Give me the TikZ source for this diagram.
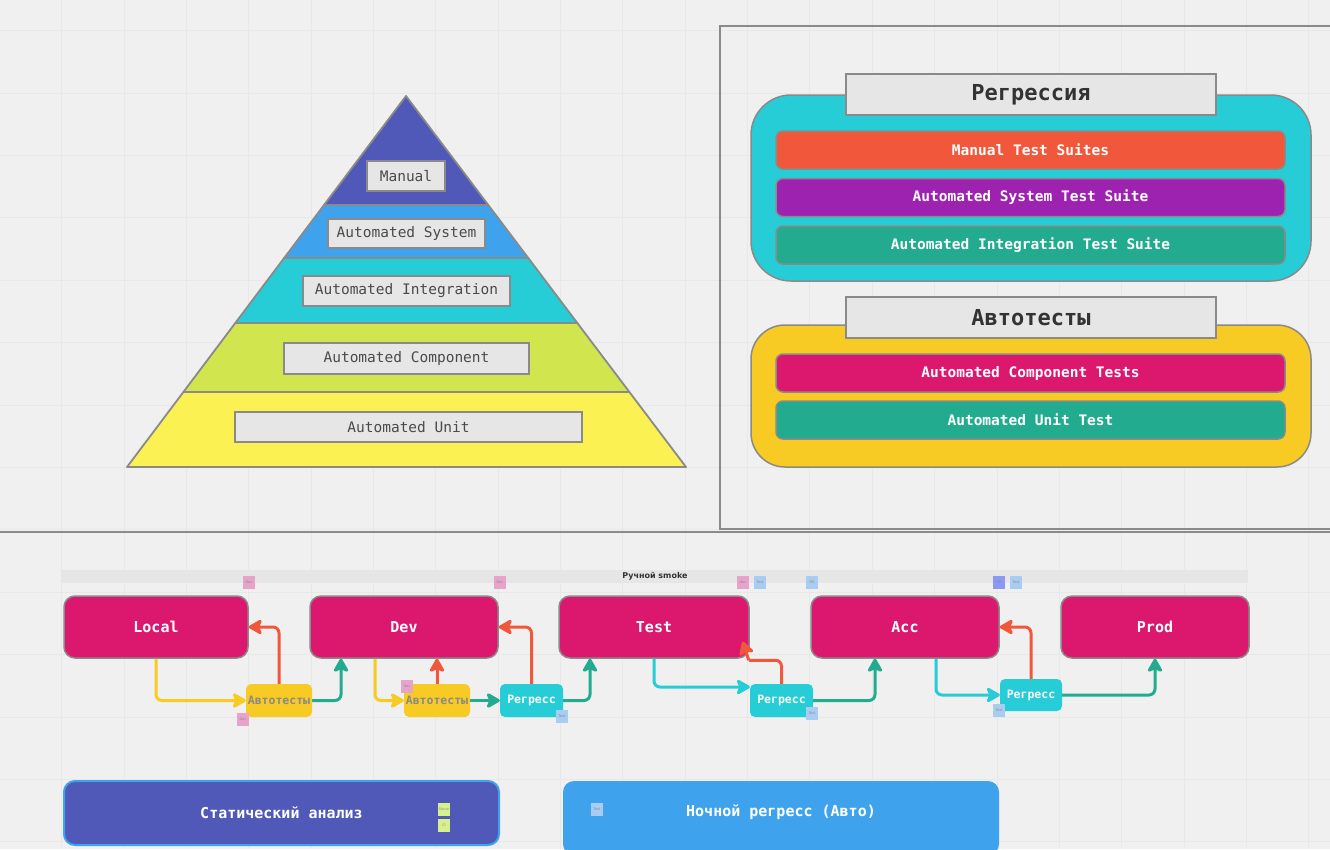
\documentclass[tikz,border=0pt]{standalone}
\usepackage{fontspec}
\setmonofont{DejaVu Sans Mono}
\setsansfont{DejaVu Sans}
\usetikzlibrary{arrows.meta,calc}
\definecolor{bg}{HTML}{F0F0F0}
\definecolor{gridc}{HTML}{E8E8E8}
\definecolor{edge}{HTML}{8A8A8A}
\definecolor{lblfill}{HTML}{E6E6E6}
\definecolor{indigo}{HTML}{5059B8}
\definecolor{sky}{HTML}{3FA2EC}
\definecolor{cyanx}{HTML}{26CDD6}
\definecolor{lime}{HTML}{D0E54E}
\definecolor{yel}{HTML}{FCF152}
\definecolor{amber}{HTML}{F8CA24}
\definecolor{tomato}{HTML}{F0573B}
\definecolor{purp}{HTML}{9E22B0}
\definecolor{tealx}{HTML}{22AB8F}
\definecolor{magx}{HTML}{DC186E}
\definecolor{notepink}{HTML}{E8A3CB}
\definecolor{noteblue}{HTML}{A9CDF2}
\definecolor{notepo}{HTML}{8B99F4}
\definecolor{notelime}{HTML}{D7F08E}
\definecolor{darktext}{HTML}{333333}
\definecolor{midtext}{HTML}{4A4A4A}
\tikzset{
  pyrlabel/.style={draw=edge, line width=1.5pt, fill=lblfill, inner sep=0pt, text=midtext,
    font=\ttfamily\fontsize{14.5}{17}\selectfont},
  titlebox/.style={draw=edge, line width=1.5pt, fill=lblfill, inner sep=0pt, text=darktext,
    minimum width=370pt, minimum height=41pt, font=\ttfamily\bfseries\fontsize{22}{26}\selectfont},
  container/.style={draw=edge, line width=1.5pt, inner sep=0pt, minimum width=560pt},
  suite/.style={draw=edge, line width=1.5pt, rounded corners=7pt, inner sep=0pt, text=white,
    minimum width=509pt, minimum height=38pt, font=\ttfamily\bfseries\fontsize{14.5}{17}\selectfont},
  envbox/.style={draw=edge, line width=1.5pt, fill=magx, rounded corners=11pt, inner sep=0pt, text=white,
    minimum height=62pt, font=\ttfamily\bfseries\fontsize{15}{18}\selectfont},
  smallbox/.style={rounded corners=5pt, inner sep=0pt, minimum height=33pt,
    font=\ttfamily\bfseries\fontsize{11.5}{14}\selectfont},
  bigbox/.style={rounded corners=11pt, inner sep=0pt, text=white,
    font=\ttfamily\bfseries\fontsize{15}{18}\selectfont},
  note/.style={inner sep=0pt, minimum width=12pt, minimum height=13pt, text=black!45,
    font=\sffamily\fontsize{3.5}{4}\selectfont, align=center},
  conn/.style={line width=3pt, rounded corners=6pt, line join=round,
    -{Stealth[length=16pt,width=18pt,inset=4pt,round]}},
  plain/.style={line width=3pt, rounded corners=6pt, line join=round}
}
\begin{document}
\begin{tikzpicture}[x=1pt,y=-1pt]
\useasboundingbox (0,0) rectangle (1330,849);
\fill[bg] (0,0) rectangle (1330,849);
% grid
\foreach \i in {1,...,21} {\draw[gridc, line width=1pt] ({\i*62.35-0.6},0) -- ++(0,849);}
\foreach \j in {0,...,13} {\draw[gridc, line width=1pt] (0,{30.7+\j*62.4}) -- ++(1330,0);}
% frames
\draw[edge, line width=2pt] (720,26) rectangle (1340,529);
\draw[edge, line width=2pt] (-5,532) -- (1340,532);

% pyramid
\coordinate (apex) at (406,96);
\coordinate (bl) at (127,467);
\coordinate (br) at (686,467);
\coordinate (l1) at ($(apex)!0.2938!(bl)$); \coordinate (r1) at ($(apex)!0.2938!(br)$);
\coordinate (l2) at ($(apex)!0.4367!(bl)$); \coordinate (r2) at ($(apex)!0.4367!(br)$);
\coordinate (l3) at ($(apex)!0.6119!(bl)$); \coordinate (r3) at ($(apex)!0.6119!(br)$);
\coordinate (l4) at ($(apex)!0.7978!(bl)$); \coordinate (r4) at ($(apex)!0.7978!(br)$);
\begin{scope}[draw=edge, line width=1.8pt, line join=round]
\filldraw[fill=indigo] (apex) -- (r1) -- (l1) -- cycle;
\filldraw[fill=sky] (l1) -- (r1) -- (r2) -- (l2) -- cycle;
\filldraw[fill=cyanx] (l2) -- (r2) -- (r3) -- (l3) -- cycle;
\filldraw[fill=lime] (l3) -- (r3) -- (r4) -- (l4) -- cycle;
\filldraw[fill=yel] (l4) -- (r4) -- (br) -- (bl) -- cycle;
\end{scope}
\node[pyrlabel, minimum width=78pt, minimum height=30pt] (pman) at (406,176) {Manual};
\node[pyrlabel, minimum width=157pt, minimum height=29pt] (psys) at (406.5,233.5) {Automated System};
\node[pyrlabel, minimum width=207pt, minimum height=30pt] (pint) at (406.5,291) {Automated Integration};
\node[pyrlabel, minimum width=245pt, minimum height=31pt] (pcomp) at (406.5,358.5) {Automated Component};
\node[pyrlabel, minimum width=347pt, minimum height=30pt] (punit) at (408.5,427) {Automated Unit};

% right panel
\node[container, fill=cyanx, minimum height=186pt, rounded corners=40pt] (regc) at (1031,188) {};
\node[titlebox] (regt) at (1031,94.5) {Регрессия};
\node[suite, fill=tomato] (s1) at (1030.5,150) {Manual Test Suites};
\node[suite, fill=purp] (s2) at (1030.5,197.5) {Automated System Test Suite};
\node[suite, fill=tealx] (s3) at (1030.5,245) {Automated Integration Test Suite};

\node[container, fill=amber, minimum height=142pt, rounded corners=34pt] (autc) at (1031,396) {};
\node[titlebox] (autt) at (1031,317.5) {Автотесты};
\node[suite, fill=magx] (s4) at (1030.5,373) {Automated Component Tests};
\node[suite, fill=tealx] (s5) at (1030.5,420) {Automated Unit Test};

% smoke bar
\fill[lblfill] (61,570) rectangle (1248,583);
\node[inner sep=0pt, text=darktext, font=\sffamily\bfseries\fontsize{8}{9}\selectfont] (smoke) at (655,576.5) {Ручной smoke};

% environment boxes
\node[envbox, minimum width=184pt] (local) at (156,627) {Local};
\node[envbox, minimum width=188pt] (dev) at (404,627) {Dev};
\node[envbox, minimum width=190pt] (test) at (654,627) {Test};
\node[envbox, minimum width=188pt] (acc) at (905,627) {Acc};
\node[envbox, minimum width=188pt] (prod) at (1155,627) {Prod};

% small boxes (positions)
\node[smallbox, minimum width=66pt] (a1) at (279,700.5) {};
\node[smallbox, minimum width=66pt] (a2) at (437,700.5) {};
\node[smallbox, minimum width=63pt] (r1b) at (531.5,700.5) {};
\node[smallbox, minimum width=63pt] (r2b) at (781.5,700.5) {};
\node[smallbox, minimum width=62pt, minimum height=32pt] (r3b) at (1031,695) {};

% connectors
\draw[conn, amber] (local.south) |- (a1.west);
\draw[conn, tomato] (a1.north) |- (local.east);
\draw[conn, tealx] (a1.east) -| ([xshift=-63pt]dev.south);
\draw[conn, amber] ([xshift=-29pt]dev.south) |- (a2.west);
\draw[conn, tomato] (a2.north) -- (a2.north |- dev.south);
\draw[conn, tealx] (a2.east) -- (r1b.west);
\draw[conn, tomato] (r1b.north) |- (dev.east);
\draw[conn, tealx] (r1b.east) -| ([xshift=-64pt]test.south);
\draw[conn, cyanx] (test.south) |- ([yshift=13.5pt]r2b.west);
\draw[plain, tomato] (r2b.north) |- ([xshift=-1pt,yshift=-1.5pt]test.south east);
\draw[conn, tomato, rounded corners=0pt] ([xshift=-1pt,yshift=-1.5pt]test.south east) -- ([xshift=-7pt,yshift=17pt]test.south east);
\draw[conn, tealx] (r2b.east) -| ([xshift=-30pt]acc.south);
\draw[conn, cyanx] ([xshift=31pt]acc.south) |- (r3b.west);
\draw[conn, tomato] (r3b.north) |- (acc.east);
\draw[conn, tealx] (r3b.east) -| (prod.south);

% small boxes (drawn on top)
\node[smallbox, fill=amber, text=edge, minimum width=66pt] (a1t) at (a1) {Автотесты};
\node[smallbox, fill=amber, text=edge, minimum width=66pt] (a2t) at (a2) {Автотесты};
\node[smallbox, fill=cyanx, text=white, minimum width=63pt] (r1t) at (r1b) {Регресс};
\node[smallbox, fill=cyanx, text=white, minimum width=63pt] (r2t) at (r2b) {Регресс};
\node[smallbox, fill=cyanx, text=white, minimum width=62pt, minimum height=32pt] (r3t) at (r3b) {Регресс};

% bottom boxes
\node[bigbox, fill=indigo, draw=sky, line width=2pt, minimum width=435pt, minimum height=64pt] (stat) at (281.5,813) {Статический анализ};
\node[bigbox, fill=sky, minimum width=436pt, minimum height=74pt] (night) at (781,818) {};
\node[bigbox, inner sep=0pt] (nightl) at (781,812) {Ночной регресс (Авто)};

% sticky notes
\node[note, fill=notepink] (n1) at (249,582.5) {Dev};
\node[note, fill=notepink] (n2) at (500,582.5) {Dev};
\node[note, fill=notepink] (n3) at (743,582.5) {Dev};
\node[note, fill=noteblue] (n4) at (760,582.5) {Test};
\node[note, fill=noteblue] (n5) at (812,582.5) {PO};
\node[note, fill=notepo] (n6) at (999,582.5) {PO};
\node[note, fill=noteblue] (n7) at (1016,582.5) {Test};
\node[note, fill=notepink] (n8) at (243,719.5) {Dev};
\node[note, fill=notepink] (n9) at (407,686.5) {Dev};
\node[note, fill=noteblue] (n10) at (562,716.5) {Test};
\node[note, fill=noteblue] (n11) at (812,713.5) {Test};
\node[note, fill=noteblue] (n12) at (999,710.5) {Test};
\node[note, fill=noteblue] (n13) at (597,809.5) {Test};
\node[note, fill=notelime] (n14) at (444,809) {Sonar};
\node[note, fill=notelime] (n15) at (444,825.5) {CI};
\end{tikzpicture}
\end{document}
